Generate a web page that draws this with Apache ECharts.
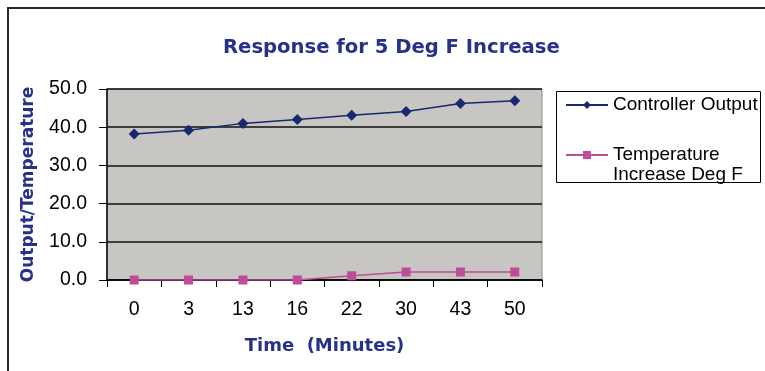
<!DOCTYPE html>
<html>
<head>
<meta charset="utf-8">
<script src="https://cdn.jsdelivr.net/npm/echarts@6/dist/echarts.min.js"></script>
<style>
html,body{margin:0;padding:0;background:#fff;}
#chart{width:765px;height:371px;}
</style>
</head>
<body>
<div id="chart"></div>
<script>
var timeCategories = ['0', '3', '13', '16', '22', '30', '43', '50'];
var controllerOutput = [38.2, 39.2, 41.0, 42.0, 43.1, 44.1, 46.2, 46.9];
var temperatureIncrease = [0, 0, 0, 0, 1.1, 2.1, 2.1, 2.1];
var yTicks = [0, 10, 20, 30, 40, 50];

var navy = '#16296f';
var magenta = '#c04b96';
var titleColor = '#27318a';

var chart = echarts.init(document.getElementById('chart'), null, {renderer: 'canvas'});
chart.setOption({
  animation: false,
  backgroundColor: '#ffffff',
  title: {
    text: 'Response for 5 Deg F Increase',
    left: 218,
    top: 33,
    textStyle: {fontFamily: 'DejaVu Sans', fontWeight: 'bold', fontSize: 19.6, color: titleColor}
  },
  graphic: [
    {type: 'rect', shape: {x: 8, y: 8, width: 900, height: 500}, style: {fill: null, stroke: '#2a2a2a', lineWidth: 2}, silent: true},
    {type: 'rect', shape: {x: 556.5, y: 91.5, width: 204, height: 91}, style: {fill: null, stroke: '#000', lineWidth: 1}, silent: true, z: 1}
  ],
  legend: {
    orient: 'vertical',
    left: 565,
    top: 95,
    padding: 0,
    itemWidth: 42,
    itemHeight: 10,
    itemGap: 10,
    data: [
      {name: 'Controller Output'},
      {name: 'Temperature Increase Deg F'}
    ],
    formatter: function (name) {
      return name === 'Temperature Increase Deg F' ? '{s| }\nTemperature\nIncrease Deg F' : name;
    },
    textStyle: {fontFamily: 'Liberation Sans', fontSize: 19, color: '#000', lineHeight: 20,
      rich: {s: {fontSize: 19, lineHeight: 20}}}
  },
  grid: {
    left: 107, top: 89, width: 435, height: 191,
    show: true, backgroundColor: '#c8c6c2', borderColor: '#8c8c8c', borderWidth: 1
  },
  xAxis: {
    type: 'category',
    data: timeCategories,
    boundaryGap: true,
    name: 'Time  (Minutes)',
    nameLocation: 'middle',
    nameGap: 57,
    nameTextStyle: {fontFamily: 'DejaVu Sans', fontWeight: 'bold', fontSize: 18, color: titleColor},
    axisLine: {show: true, lineStyle: {color: '#000', width: 1.5}},
    axisTick: {show: true, length: 7, lineStyle: {color: '#000', width: 1}},
    axisLabel: {margin: 20, fontFamily: 'Liberation Sans', fontSize: 19.5, color: '#000'},
    splitLine: {show: false}
  },
  yAxis: {
    type: 'value',
    min: yTicks[0],
    max: yTicks[yTicks.length - 1],
    interval: 10,
    name: 'Output/Temperature',
    nameLocation: 'middle',
    nameRotate: 90,
    nameGap: 70,
    nameTextStyle: {fontFamily: 'DejaVu Sans', fontWeight: 'bold', fontSize: 17, color: titleColor},
    axisLine: {show: true, lineStyle: {color: '#000', width: 1.5}},
    axisTick: {show: true, length: 8, lineStyle: {color: '#000', width: 1}},
    axisLabel: {margin: 20, fontFamily: 'Liberation Sans', fontSize: 19.5, color: '#000', formatter: function (v) { return v.toFixed(1); }},
    splitLine: {show: true, lineStyle: {color: '#111', width: 1.5}}
  },
  series: [
    {
      name: 'Controller Output',
      type: 'line',
      data: controllerOutput,
      symbol: 'diamond',
      symbolSize: 11,
      itemStyle: {color: navy},
      lineStyle: {color: navy, width: 1.5}
    },
    {
      name: 'Temperature Increase Deg F',
      type: 'line',
      data: temperatureIncrease,
      symbol: 'rect',
      symbolSize: 9,
      itemStyle: {color: magenta},
      lineStyle: {color: magenta, width: 1.5}
    }
  ]
});
</script>
</body>
</html>
